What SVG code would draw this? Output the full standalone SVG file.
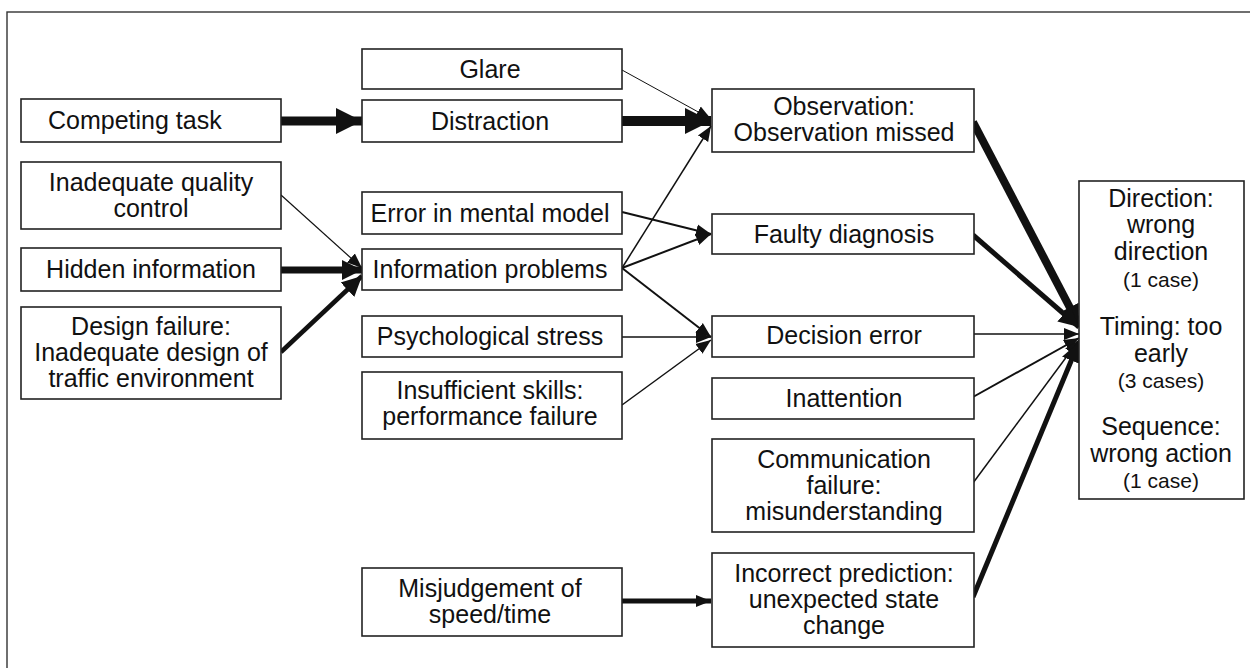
<svg xmlns="http://www.w3.org/2000/svg" width="1250" height="668" viewBox="0 0 1250 668">
<style>
.box{fill:#fff;stroke:#222;stroke-width:1.6}
.t{font-family:"Liberation Sans",Arial,Helvetica,sans-serif;font-size:25px;fill:#111;text-anchor:middle}
.s{font-size:21px}
.c{fill:none;stroke:#111;stroke-linecap:butt}
</style>
<defs>
<marker id="aL" markerUnits="userSpaceOnUse" markerWidth="28" markerHeight="28" refX="26" refY="14" orient="auto"><path d="M0,1 L26,14 L0,27 Z" fill="#111"/></marker>
<marker id="aM" markerUnits="userSpaceOnUse" markerWidth="22" markerHeight="22" refX="20" refY="11" orient="auto"><path d="M0,1 L20,11 L0,21 Z" fill="#111"/></marker>
<marker id="aS" markerUnits="userSpaceOnUse" markerWidth="16" markerHeight="14" refX="15" refY="7" orient="auto"><path d="M0,1 L15,7 L0,13 Z" fill="#111"/></marker>
</defs>
<rect x="7" y="12" width="1300" height="700" fill="#fff" stroke="#333" stroke-width="1.4"/>

<g id="connectors">
<line class="c" x1="281" y1="121" x2="362" y2="121" stroke-width="9" marker-end="url(#aL)"/>
<line class="c" x1="622" y1="70" x2="711" y2="119" stroke-width="1" marker-end="url(#aS)"/>
<line class="c" x1="622" y1="121" x2="711" y2="121" stroke-width="10" marker-end="url(#aL)"/>
<line class="c" x1="622" y1="268" x2="711" y2="126" stroke-width="1.5" marker-end="url(#aS)"/>
<line class="c" x1="622" y1="212" x2="711" y2="234" stroke-width="2" marker-end="url(#aS)"/>
<line class="c" x1="622" y1="268" x2="711" y2="234" stroke-width="2" marker-end="url(#aS)"/>
<line class="c" x1="622" y1="268" x2="711" y2="337" stroke-width="2" marker-end="url(#aS)"/>
<line class="c" x1="622" y1="337" x2="711" y2="337" stroke-width="1.5" marker-end="url(#aS)"/>
<line class="c" x1="622" y1="405" x2="711" y2="340" stroke-width="1.5" marker-end="url(#aS)"/>
<line class="c" x1="281" y1="195" x2="362" y2="268" stroke-width="1.2" marker-end="url(#aS)"/>
<line class="c" x1="281" y1="270" x2="362" y2="270" stroke-width="7" marker-end="url(#aM)"/>
<line class="c" x1="281" y1="352" x2="362" y2="276" stroke-width="4.5" marker-end="url(#aM)"/>
<line class="c" x1="622" y1="601" x2="711" y2="601" stroke-width="5" marker-end="url(#aS)"/>
<line class="c" x1="973" y1="122" x2="1079" y2="325" stroke-width="8" marker-end="url(#aM)"/>
<line class="c" x1="973" y1="235" x2="1079" y2="327" stroke-width="5" marker-end="url(#aM)"/>
<line class="c" x1="973" y1="334" x2="1079" y2="334" stroke-width="1.5" marker-end="url(#aS)"/>
<line class="c" x1="973" y1="397" x2="1079" y2="338" stroke-width="2" marker-end="url(#aS)"/>
<line class="c" x1="973" y1="483" x2="1079" y2="340" stroke-width="1.5" marker-end="url(#aS)"/>
<line class="c" x1="973" y1="597" x2="1079" y2="342" stroke-width="5" marker-end="url(#aM)"/>
</g>

<g id="competing-task"><rect class="box" x="21" y="99" width="260" height="43"/><text class="t" x="48" y="129" style="text-anchor:start">Competing task</text></g>
<g id="inadequate-quality-control"><rect class="box" x="21" y="162" width="260" height="67"/><text class="t" x="151" y="191">Inadequate quality</text><text class="t" x="151" y="217">control</text></g>
<g id="hidden-information"><rect class="box" x="21" y="248" width="260" height="43"/><text class="t" x="151" y="278">Hidden information</text></g>
<g id="design-failure"><rect class="box" x="21" y="307" width="260" height="92"/><text class="t" x="151" y="335">Design failure:</text><text class="t" x="151" y="361">Inadequate design of</text><text class="t" x="151" y="387">traffic environment</text></g>

<g id="glare"><rect class="box" x="362" y="49" width="260" height="40"/><text class="t" x="490" y="78">Glare</text></g>
<g id="distraction"><rect class="box" x="362" y="100" width="260" height="42"/><text class="t" x="490" y="130">Distraction</text></g>
<g id="error-mental-model"><rect class="box" x="362" y="192" width="260" height="42"/><text class="t" x="490" y="222">Error in mental model</text></g>
<g id="information-problems"><rect class="box" x="362" y="249" width="260" height="41"/><text class="t" x="490" y="278">Information problems</text></g>
<g id="psychological-stress"><rect class="box" x="362" y="316" width="260" height="41"/><text class="t" x="490" y="345">Psychological stress</text></g>
<g id="insufficient-skills"><rect class="box" x="362" y="372" width="260" height="67"/><text class="t" x="490" y="399">Insufficient skills:</text><text class="t" x="490" y="425">performance failure</text></g>
<g id="misjudgement"><rect class="box" x="362" y="568" width="260" height="68"/><text class="t" x="490" y="597">Misjudgement of</text><text class="t" x="490" y="623">speed/time</text></g>

<g id="observation"><rect class="box" x="712" y="89" width="262" height="63"/><text class="t" x="844" y="115">Observation:</text><text class="t" x="844" y="141">Observation missed</text></g>
<g id="faulty-diagnosis"><rect class="box" x="712" y="214" width="262" height="40"/><text class="t" x="844" y="243">Faulty diagnosis</text></g>
<g id="decision-error"><rect class="box" x="712" y="316" width="262" height="41"/><text class="t" x="844" y="344">Decision error</text></g>
<g id="inattention"><rect class="box" x="712" y="378" width="262" height="41"/><text class="t" x="844" y="407">Inattention</text></g>
<g id="communication-failure"><rect class="box" x="712" y="439" width="262" height="93"/><text class="t" x="844" y="468">Communication</text><text class="t" x="844" y="494">failure:</text><text class="t" x="844" y="520">misunderstanding</text></g>
<g id="incorrect-prediction"><rect class="box" x="712" y="553" width="262" height="94"/><text class="t" x="844" y="582">Incorrect prediction:</text><text class="t" x="844" y="608">unexpected state</text><text class="t" x="844" y="634">change</text></g>

<g id="outcome"><rect class="box" x="1079" y="181" width="165" height="318"/>
<text class="t" x="1161" y="207">Direction:</text><text class="t" x="1161" y="233">wrong</text><text class="t" x="1161" y="260">direction</text><text class="t s" x="1161" y="287">(1 case)</text>
<text class="t" x="1161" y="335">Timing: too</text><text class="t" x="1161" y="362">early</text><text class="t s" x="1161" y="388">(3 cases)</text>
<text class="t" x="1161" y="435">Sequence:</text><text class="t" x="1161" y="462">wrong action</text><text class="t s" x="1161" y="488">(1 case)</text>
</g>
</svg>
